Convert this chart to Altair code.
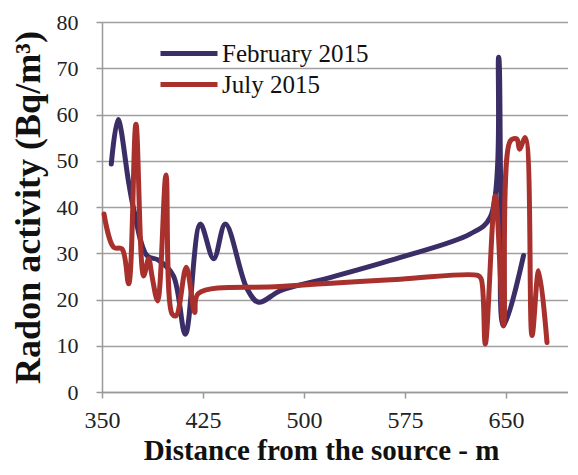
import altair as alt
import pandas as pd

FEB_X = [356.9, 361.9, 369.8, 373.5, 383.4, 392.0, 403.0, 411.9, 423.0, 432.9, 441.6,
         457.7, 466.3, 482.4, 520.0, 571.6, 623.5, 638.3, 644.5, 646.0, 648.2, 663.0]
FEB_Y = [49.3, 58.9, 45.3, 39.6, 29.5, 28.5, 25.1, 12.5, 36.3, 28.8, 36.3,
         22.3, 19.4, 21.9, 24.8, 29.1, 34.2, 37.8, 72.4, 45.0, 14.3, 29.5]

JUL_X = [351.5, 358.6, 364.9, 369.8, 375.2, 380.9, 384.6, 387.1, 391.3, 397.5, 402.0,
         405.0, 412.6, 418.8, 421.5, 482.0, 571.6, 629.0, 631.5, 634.6, 642.0, 648.2,
         653.2, 658.0, 660.0, 664.3, 669.3, 674.2, 680.4]
JUL_Y = [38.5, 31.3, 30.9, 23.4, 57.9, 25.1, 28.8, 25.1, 19.7, 46.9, 16.9,
         16.5, 27.0, 17.2, 21.3, 22.8, 24.4, 25.2, 24.5, 10.4, 42.4, 14.3,
         54.3, 54.7, 52.5, 55.0, 12.2, 26.2, 10.7]

SERIES = ["February 2015", "July 2015"]
COLORS = ["#3b2e66", "#a8312e"]
X_TICKS = [350, 425, 500, 575, 650]
Y_TICKS = [0, 10, 20, 30, 40, 50, 60, 70, 80]

rows = []
for i, (x, y) in enumerate(zip(FEB_X, FEB_Y)):
    rows.append({"series": SERIES[0], "x": x, "y": y, "idx": i})
for i, (x, y) in enumerate(zip(JUL_X, JUL_Y)):
    rows.append({"series": SERIES[1], "x": x, "y": y, "idx": i})
df = pd.DataFrame(rows)

FONT = "Liberation Serif"

chart = alt.Chart(df).mark_line(
    interpolate="catmull-rom", strokeWidth=5, strokeCap="round", strokeJoin="round"
).encode(
    x=alt.X("x:Q",
            scale=alt.Scale(domain=[350, 696], nice=False, zero=False),
            axis=alt.Axis(values=X_TICKS, title="Distance from the source - m", grid=False,
                          labelFont=FONT, titleFont=FONT, labelFlush=False,
                          labelFontSize=24, labelPadding=10, titleFontSize=29,
                          titlePadding=4, titleFontWeight="bold",
                          titleX=219, titleAnchor="start", titleAlign="center")),
    y=alt.Y("y:Q",
            scale=alt.Scale(domain=[0, 80], nice=False),
            axis=alt.Axis(values=Y_TICKS, title="Radon activity (Bq/m³)", grid=True,
                          labelFont=FONT, titleFont=FONT,
                          labelFontSize=22, labelPadding=18, titleFontSize=36,
                          titlePadding=9, titleFontWeight="bold")),
    color=alt.Color("series:N",
                    scale=alt.Scale(domain=SERIES, range=COLORS),
                    legend=alt.Legend(title=None, orient="none", legendX=56, legendY=19,
                                      symbolType="stroke", symbolStrokeWidth=5,
                                      symbolSize=3249, clipHeight=25,
                                      labelFontSize=25, labelFont=FONT,
                                      labelColor="#111", labelOffset=2, rowPadding=5,
                                      padding=0)),
    order="idx:Q",
).properties(
    width=466, height=370,
    autosize=alt.AutoSizeParams(type="none"),
    padding={"left": 94, "top": 14, "right": 0, "bottom": 75},
).configure(font=FONT).configure_view(stroke=None).configure_axis(
    labelFont=FONT, titleFont=FONT,
    labelColor="#222", titleColor="#111",
    domainColor="#999", tickColor="#999", gridColor="#a0a0a0",
    domainWidth=1.5, tickWidth=1.5, gridWidth=1.5, tickSize=6,
)

chart.save("out.html", embed_options={"renderer": "svg", "actions": False})
